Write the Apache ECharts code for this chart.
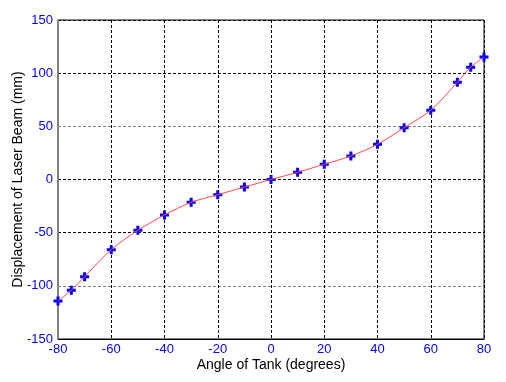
<!DOCTYPE html>
<html>
<head>
<meta charset="utf-8">
<script src="https://cdn.jsdelivr.net/npm/echarts@6/dist/echarts.min.js"></script>
<style>html,body{margin:0;padding:0;background:#fff}#c{width:506px;height:382px}</style>
</head>
<body>
<div id="c"></div>
<script>
const angles = [-80, -75, -70, -60, -50, -40, -30, -20, -10, 0, 10, 20, 30, 40, 50, 60, 70, 75, 80];
const displacement = [-114.3, -104.2, -91.4, -66.0, -47.8, -33.4, -21.5, -14.3, -7.1, 0, 6.8, 14.3, 22.1, 33.1, 48.7, 65.1, 91.4, 105.5, 115.2];
const xTitle = 'Angle of Tank (degrees)';
const yTitle = 'Displacement of Laser Beam (mm)';

const pts = angles.map((a, i) => [a, displacement[i]]);
const chart = echarts.init(document.getElementById('c'));
const labelStyle = { color: '#0000ff', fontFamily: 'Liberation Sans, Arial, sans-serif', fontSize: 13 };
chart.setOption({
  animation: false,
  grid: { left: 58, right: 22, top: 20, bottom: 43, show: true, borderColor: '#000', borderWidth: 1, containLabel: false, outerBoundsMode: 'none' },
  xAxis: {
    type: 'value', min: -80, max: 80, interval: 20,
    name: xTitle, nameLocation: 'middle', nameGap: 19, nameMoveOverlap: false,
    nameTextStyle: { color: '#000', fontFamily: 'Liberation Sans, Arial, sans-serif', fontSize: 14 },
    axisLine: { show: true, onZero: false, lineStyle: { color: '#000', width: 1 } },
    axisTick: { show: false },
    axisLabel: Object.assign({ margin: 4 }, labelStyle),
    splitLine: { show: true, lineStyle: { color: '#000', type: [3, 2], width: 1 } }
  },
  yAxis: {
    type: 'value', min: -150, max: 150, interval: 50,
    name: yTitle, nameLocation: 'middle', nameGap: 33, nameMoveOverlap: false,
    nameTextStyle: { color: '#000', fontFamily: 'Liberation Sans, Arial, sans-serif', fontSize: 14 },
    axisLine: { show: true, onZero: false, lineStyle: { color: '#808080', width: 1 } },
    axisTick: { show: false },
    axisLabel: Object.assign({ margin: 5 }, labelStyle),
    splitLine: { show: true, lineStyle: { color: ['#000', '#808080', '#000'], type: [3, 2], width: 1 } }
  },
  series: [
    {
      type: 'scatter', data: pts, z: 3,
      symbol: 'path://M3,0H6V3H9V6H6V9H3V6H0V3H3Z', symbolSize: 9,
      itemStyle: { color: '#0000ff', opacity: 1 }
    },
    {
      type: 'line', data: pts, smooth: 0.3, showSymbol: false, symbol: 'none', z: 4,
      lineStyle: { color: '#ff4a4a', width: 1 }
    }
  ]
});
</script>
</body>
</html>
